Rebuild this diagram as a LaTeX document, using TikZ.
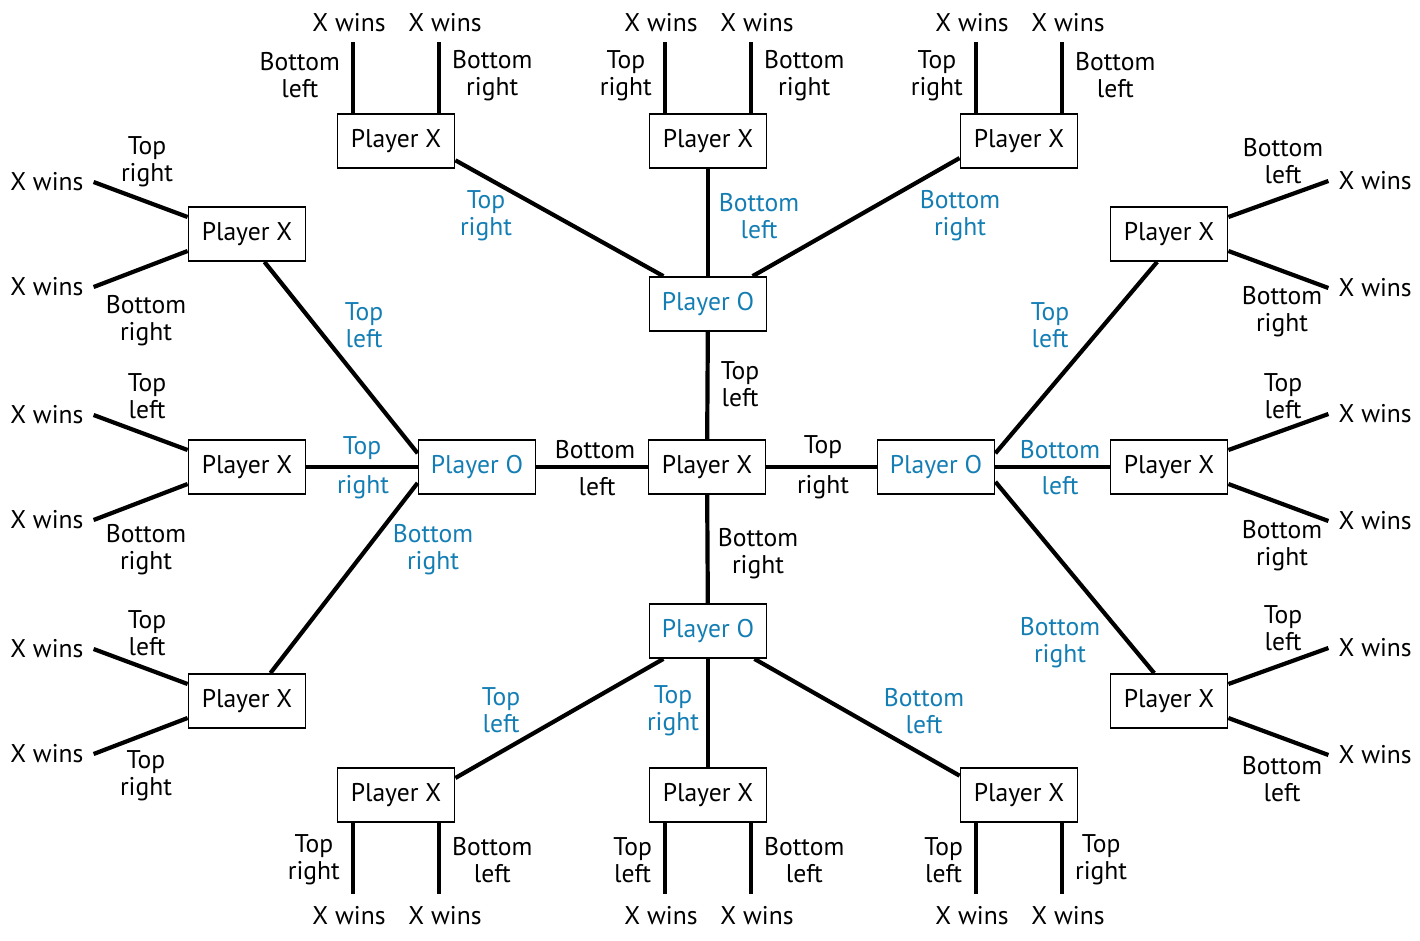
\documentclass[tikz,border=0pt]{standalone}
\usepackage{fontspec}
\setmainfont{PT Sans}
\usetikzlibrary{positioning}
\definecolor{oblue}{RGB}{20,126,180}
\tikzset{
    box/.style={draw, line width=1.8pt, minimum width=117pt, minimum height=54pt, inner sep=0pt},
    obox/.style={box, text=oblue},
    edge/.style={line width=4.2pt},
    lbl/.style={align=center, inner sep=0pt},
    olbl/.style={lbl, text=oblue},
    win/.style={inner sep=0pt},
}

\begin{document}
\begin{tikzpicture}[x=1pt, y=-1pt, font=\fontsize{25.6}{27}\selectfont]
    \useasboundingbox (0,0) rectangle (1420,940);

    %% first move and the answers of O
    \node[box] (c) at (707,467) {Player X};
    \node[obox] (oT) at (708,304) {Player O};
    \node[obox] (oL) at (477,467) {Player O};
    \node[obox] (oR) at (936,467) {Player O};
    \node[obox] (oB) at (708,631) {Player O};

    \draw[edge] (c) -- (oT);
    \draw[edge] (c) -- (oL);
    \draw[edge] (c) -- (oR);
    \draw[edge] (c) -- (oB);
    \node[lbl] (lcT) at (740,384) {Top\\left};
    \node[lbl] (lcL) at (595,450) {Bottom};
    \node[lbl] (lcL2) at (597,487) {left};
    \node[lbl] (lcR) at (823,447) {Top};
    \node[lbl] (lcR2) at (823,487) {right};
    \node[lbl] (lcB) at (758,554) {Bottom\\right};

    %% second move of X
    \node[box] (xTL) at (396,141) {Player X};
    \node[box] (xTM) at (708,141) {Player X};
    \node[box] (xTR) at (1019,141) {Player X};
    \node[box] (xLT) at (247,234) {Player X};
    \node[box] (xLM) at (247,467) {Player X};
    \node[box] (xLB) at (247,701) {Player X};
    \node[box] (xRT) at (1169,234) {Player X};
    \node[box] (xRM) at (1169,467) {Player X};
    \node[box] (xRB) at (1169,701) {Player X};
    \node[box] (xBL) at (396,795) {Player X};
    \node[box] (xBM) at (708,795) {Player X};
    \node[box] (xBR) at (1019,795) {Player X};

    \draw[edge] (oT.148) -- (xTL.-18);
    \draw[edge] (oT) -- (xTM);
    \draw[edge] (oT.32) -- (xTR.-164);
    \draw[edge] (oL.167) -- (xLT.-58);
    \draw[edge] (oL) -- (xLM);
    \draw[edge] (oL.195) -- (xLB.50);
    \draw[edge] (oR.13) -- (xRT.-113);
    \draw[edge] (oR) -- (xRM);
    \draw[edge] (oR.-14) -- (xRB.118);
    \draw[edge] (oB.-148) -- (xBL.16);
    \draw[edge] (oB) -- (xBM);
    \draw[edge] (oB.-31) -- (xBR.162);

    \node[olbl] (loTL) at (486,216) {Top\\right};
    \node[olbl] (loTM) at (759,216) {Bottom\\left};
    \node[olbl] (loTR) at (960,216) {Bottom\\right};
    \node[olbl] (loLT) at (364,325) {Top\\left};
    \node[olbl] (loLM) at (362,448) {Top};
    \node[olbl] (loLM2) at (363,487) {right};
    \node[olbl] (loLB) at (433,550) {Bottom\\right};
    \node[olbl] (loRT) at (1050,325) {Top\\left};
    \node[olbl] (loRM) at (1060,450) {Bottom};
    \node[olbl] (loRM2) at (1060,486) {left};
    \node[olbl] (loRB) at (1060,643) {Bottom\\right};
    \node[olbl] (loBL) at (501,710) {Top\\left};
    \node[olbl] (loBM) at (673,711) {Top\\right};
    \node[olbl] (loBR) at (924,711) {Bottom\\left};

    %% X wins on the third move
    \foreach \n/\la/\lb in {xTL/{Bottom\\left}/{Bottom\\right}, xTM/{Top\\right}/{Bottom\\right}, xTR/{Top\\right}/{Bottom\\left}} {
        \draw[edge] ([xshift=-43pt]\n.north) -- node[lbl, pos=.53, left=11pt] (la\n) {\la} ++(0,-71) coordinate (a\n);
        \draw[edge] ([xshift=43pt]\n.north) -- node[lbl, pos=.53, right=11pt] (lb\n) {\lb} ++(0,-71) coordinate (b\n);
        \node[win, above=10pt of a\n, xshift=-4pt] (wa\n) {X wins};
        \node[win, above=10pt of b\n, xshift=6pt] (wb\n) {X wins};
    }
    \foreach \n/\la/\lb in {xBL/{Top\\right}/{Bottom\\left}, xBM/{Top\\left}/{Bottom\\left}, xBR/{Top\\left}/{Top\\right}} {
        \draw[edge] ([xshift=-43pt]\n.south) -- node[lbl, pos=.52, left=11pt] (la\n) {\la} ++(0,71) coordinate (a\n);
        \draw[edge] ([xshift=43pt]\n.south) -- node[lbl, pos=.52, right=11pt] (lb\n) {\lb} ++(0,71) coordinate (b\n);
        \node[win, below=12pt of a\n, xshift=-4pt] (wa\n) {X wins};
        \node[win, below=12pt of b\n, xshift=6pt] (wb\n) {X wins};
    }
    \foreach \n/\la/\ya/\lb/\yb in {xLT/{Top\\right}/162/{Bottom\\right}/321, xLM/{Top\\left}/396/{Bottom\\right}/550, xLB/{Top\\left}/633/{Top\\right}/776} {
        \draw[edge] ([yshift=17pt]\n.west) -- ++(-94,-35) coordinate (a\n);
        \draw[edge] ([yshift=-17pt]\n.west) -- ++(-94,36) coordinate (b\n);
        \node[win, left=10pt of a\n] (wa\n) {X wins};
        \node[win, left=10pt of b\n] (wb\n) {X wins};
        \node[lbl] (la\n) at (147,\ya) {\la};
        \node[lbl] (lb\n) at (146,\yb) {\lb};
    }
    \foreach \n/\la/\ya/\lb/\yb in {xRT/{Bottom\\left}/161/{Bottom\\right}/312, xRM/{Top\\left}/396/{Bottom\\right}/546, xRB/{Top\\left}/628/{Bottom\\left}/779} {
        \draw[edge] ([yshift=17pt]\n.east) -- ++(100,-36) coordinate (a\n);
        \draw[edge] ([yshift=-17pt]\n.east) -- ++(100,37) coordinate (b\n);
        \node[win, right=10pt of a\n] (wa\n) {X wins};
        \node[win, right=10pt of b\n] (wb\n) {X wins};
        \node[lbl] (la\n) at (1283,\ya) {\la};
        \node[lbl] (lb\n) at (1282,\yb) {\lb};
    }
\end{tikzpicture}
\end{document}
